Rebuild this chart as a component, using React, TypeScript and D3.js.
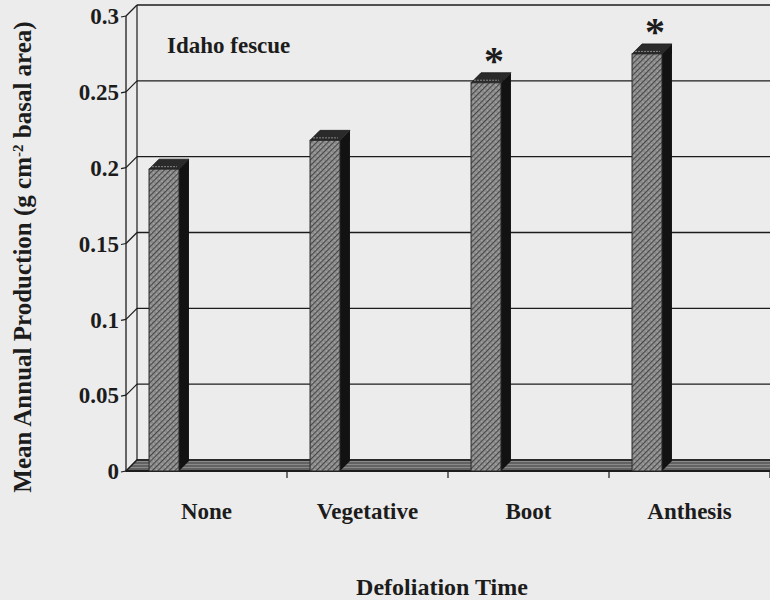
import React from "react";
import * as d3 from "d3";

const categories = ["None", "Vegetative", "Boot", "Anthesis"];
const values = [0.199, 0.218, 0.256, 0.275];
const significant = [false, false, true, true];
const yTicks = [0, 0.05, 0.1, 0.15, 0.2, 0.25, 0.3];
const yTickLabels = ["0", "0.05", "0.1", "0.15", "0.2", "0.25", "0.3"];

const W = 770;
const H = 600;
const FONT = "'Liberation Serif', 'Times New Roman', serif";
const INK = "#1c1c1c";

export default function App() {
  const x = d3.scaleBand<string>().domain(categories).range([126, 770]).padding(0);
  const y = d3.scaleLinear().domain([0, 0.3]).range([471, 16]);
  const bw = x.bandwidth();
  const wallD = 11; // wall depth offset
  const barD = 10; // bar depth offset
  const barOff = bw * 0.143;
  const barW = bw * 0.186;
  const y0 = y(0);
  const xL = x.range()[0];
  const xR = x.range()[1];

  return (
    <svg
      width={W}
      height={H}
      style={{ position: "absolute", left: 0, top: 0 }}
      xmlns="http://www.w3.org/2000/svg"
    >
      <defs>
        <pattern id="hatch" width="4" height="4" patternUnits="userSpaceOnUse" patternTransform="rotate(45)">
          <rect width="4" height="4" fill="#8a8a8a" />
          <line x1="0" y1="0" x2="0" y2="4" stroke="#3a3a3a" strokeWidth="1.7" />
          <rect x="2.5" y="1" width="1" height="1" fill="#c4c4c4" />
        </pattern>
        <pattern id="floorHatch" width="5" height="3" patternUnits="userSpaceOnUse">
          <rect width="5" height="3" fill="#8a8a8a" />
          <line x1="0" y1="1" x2="5" y2="1" stroke="#3a3a3a" strokeWidth="1" />
        </pattern>
      </defs>
      <rect width={W} height={H} fill="#ececec" />

      {/* back wall gridlines */}
      {yTicks.map((t) => (
        <line key={"g" + t} x1={xL + wallD} x2={xR + wallD} y1={y(t) - wallD} y2={y(t) - wallD} stroke={INK} strokeWidth={1.3} />
      ))}
      {/* left wall */}
      <line x1={xL + wallD} x2={xL + wallD} y1={y(0.3) - wallD} y2={y0 - wallD} stroke={INK} strokeWidth={1.2} />
      <line x1={xL} x2={xL} y1={y(0.3)} y2={y0} stroke={INK} strokeWidth={1.3} />
      {yTicks.map((t) => (
        <line key={"d" + t} x1={xL} x2={xL + wallD} y1={y(t)} y2={y(t) - wallD} stroke={INK} strokeWidth={1.2} />
      ))}
      {/* y tick marks */}
      {yTicks.map((t) => (
        <line key={"t" + t} x1={xL - 5} x2={xL} y1={y(t) + 1} y2={y(t)} stroke={INK} strokeWidth={1.2} />
      ))}

      {/* floor */}
      <polygon
        points={`${xL},${y0} ${xR},${y0} ${xR + wallD},${y0 - wallD} ${xL + wallD},${y0 - wallD}`}
        fill="url(#floorHatch)"
        stroke={INK}
        strokeWidth={1.3}
      />
      <line x1={xL} x2={xR} y1={y0} y2={y0} stroke={INK} strokeWidth={2} />

      {/* bars */}
      {categories.map((c, i) => {
        const x0 = (x(c) as number) + barOff;
        const yv = y(values[i]);
        return (
          <g key={c}>
            <polygon
              points={`${x0 + barW},${yv} ${x0 + barW + barD},${yv - barD} ${x0 + barW + barD},${y0 - barD} ${x0 + barW},${y0}`}
              fill="#121212"
            />
            <polygon
              points={`${x0},${yv} ${x0 + barW},${yv} ${x0 + barW + barD},${yv - barD} ${x0 + barD},${yv - barD}`}
              fill="#2a2a2a"
              stroke="#1a1a1a"
              strokeWidth={0.8}
            />
            <line x1={x0 + 3} x2={x0 + barW - 2} y1={yv - 2.5} y2={yv - 2.5} stroke="#888" strokeWidth={1} strokeDasharray="2 1" />
            <rect x={x0} y={yv} width={barW} height={y0 - yv} fill="url(#hatch)" stroke="#2a2a2a" strokeWidth={1} />
            {significant[i] && (
              <text
                x={x0 + barW / 2 + barD / 2 + 3}
                y={yv - barD - 14}
                fontFamily={FONT}
                fontWeight="bold"
                fontSize={40}
                textAnchor="middle"
                dominantBaseline="central"
                fill={INK}
                dy={2}
              >
                *
              </text>
            )}
          </g>
        );
      })}

      {/* x category ticks */}
      {categories.map((c) => (
        <line key={"xt" + c} x1={(x(c) as number) + bw} x2={(x(c) as number) + bw} y1={y0} y2={y0 + 7} stroke={INK} strokeWidth={1.2} />
      ))}

      {/* y tick labels */}
      {yTicks.map((t, i) => (
        <text
          key={"l" + t}
          x={xL - 7}
          y={y(t) + 3}
          textAnchor="end"
          dominantBaseline="middle"
          fontFamily={FONT}
          fontWeight="bold"
          fontSize={23}
          fill={INK}
        >
          {yTickLabels[i]}
        </text>
      ))}

      {/* category labels */}
      {categories.map((c) => (
        <text
          key={"c" + c}
          x={(x(c) as number) + bw / 2}
          y={519}
          textAnchor="middle"
          fontFamily={FONT}
          fontWeight="bold"
          fontSize={23}
          fill={INK}
        >
          {c}
        </text>
      ))}

      <text x={167} y={53} fontFamily={FONT} fontWeight="bold" fontSize={23} fill={INK}>
        Idaho fescue
      </text>

      <text x={442} y={595} textAnchor="middle" fontFamily={FONT} fontWeight="bold" fontSize={24} fill={INK}>
        Defoliation Time
      </text>

      <text
        transform="translate(31,257) rotate(-90)"
        textAnchor="middle"
        fontFamily={FONT}
        fontWeight="bold"
        fontSize={25}
        fill={INK}
      >
        Mean Annual Production (g cm
        <tspan dy={-8} fontSize={15}>-2</tspan>
        <tspan dy={8}> basal area)</tspan>
      </text>
    </svg>
  );
}
